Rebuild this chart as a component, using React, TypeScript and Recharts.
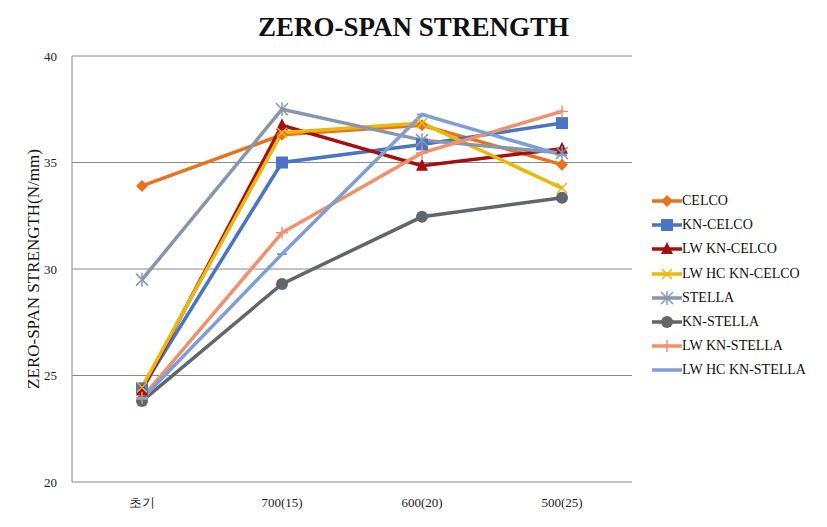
import React from "react";
import { LineChart, Line, XAxis, YAxis, CartesianGrid } from "recharts";

const categories = ["초기", "700(15)", "600(20)", "500(25)"];
const yTicks = [20, 25, 30, 35, 40];

const celco = [33.9, 36.3, 36.75, 34.9];
const knCelco = [24.4, 35.0, 35.85, 36.85];
const lwKnCelco = [24.3, 36.75, 34.85, 35.65];
const lwHcKnCelco = [24.45, 36.4, 36.85, 33.8];
const stella = [29.5, 37.5, 36.05, 35.45];
const knStella = [23.8, 29.3, 32.45, 33.35];
const lwKnStella = [23.95, 31.7, 35.45, 37.4];
const lwHcKnStella = [23.9, 30.7, 37.25, 35.35];

type Shape = "diamond" | "square" | "triangle" | "x" | "star" | "circle" | "plus" | "dash";

const series: { key: string; name: string; values: number[]; color: string; shape: Shape }[] = [
  { key: "celco", name: "CELCO", values: celco, color: "#E8731E", shape: "diamond" },
  { key: "knCelco", name: "KN-CELCO", values: knCelco, color: "#4A74C4", shape: "square" },
  { key: "lwKnCelco", name: "LW KN-CELCO", values: lwKnCelco, color: "#A60F0F", shape: "triangle" },
  { key: "lwHcKnCelco", name: "LW HC KN-CELCO", values: lwHcKnCelco, color: "#E8B90A", shape: "x" },
  { key: "stella", name: "STELLA", values: stella, color: "#8796AE", shape: "star" },
  { key: "knStella", name: "KN-STELLA", values: knStella, color: "#61656C", shape: "circle" },
  { key: "lwKnStella", name: "LW KN-STELLA", values: lwKnStella, color: "#F2906A", shape: "plus" },
  { key: "lwHcKnStella", name: "LW HC KN-STELLA", values: lwHcKnStella, color: "#7E9ED6", shape: "dash" },
];

const data = categories.map((c, i) => {
  const row: Record<string, string | number> = { cat: c };
  series.forEach((s) => (row[s.key] = s.values[i]));
  return row;
});

const serif = "'Liberation Serif', 'DejaVu Serif', serif";

function Marker({ cx, cy, shape, color }: { cx: number; cy: number; shape: Shape; color: string }) {
  switch (shape) {
    case "diamond":
      return <polygon points={`${cx},${cy - 6} ${cx + 6},${cy} ${cx},${cy + 6} ${cx - 6},${cy}`} fill={color} />;
    case "square":
      return <rect x={cx - 6} y={cy - 6} width={12} height={12} fill={color} />;
    case "triangle":
      return <polygon points={`${cx},${cy - 7} ${cx + 6},${cy + 5} ${cx - 6},${cy + 5}`} fill={color} />;
    case "x":
      return (
        <g stroke={color} strokeWidth={1.5}>
          <line x1={cx - 5} y1={cy - 5} x2={cx + 5} y2={cy + 5} />
          <line x1={cx - 5} y1={cy + 5} x2={cx + 5} y2={cy - 5} />
        </g>
      );
    case "star":
      return (
        <g stroke={color} strokeWidth={1.5}>
          <line x1={cx - 6} y1={cy - 6} x2={cx + 6} y2={cy + 6} />
          <line x1={cx - 6} y1={cy + 6} x2={cx + 6} y2={cy - 6} />
          <line x1={cx} y1={cy - 7} x2={cx} y2={cy + 7} />
        </g>
      );
    case "circle":
      return <circle cx={cx} cy={cy} r={6} fill={color} />;
    case "plus":
      return (
        <g stroke={color} strokeWidth={1.5}>
          <line x1={cx - 6} y1={cy} x2={cx + 6} y2={cy} />
          <line x1={cx} y1={cy - 6} x2={cx} y2={cy + 6} />
        </g>
      );
    default:
      return <line x1={cx - 5} y1={cy} x2={cx + 5} y2={cy} stroke={color} strokeWidth={2} />;
  }
}

export default function App() {
  return (
    <div style={{ position: "absolute", left: 0, top: 0, width: 827, height: 527, background: "#fff" }}>
      <div
        style={{
          position: "absolute", left: 0, top: 12, width: 827, textAlign: "center",
          fontFamily: serif, fontWeight: "bold", fontSize: 27, color: "#111",
        }}
      >
        ZERO-SPAN STRENGTH
      </div>
      <LineChart width={827} height={527} data={data} margin={{ top: 56, right: 195, bottom: 15, left: 0 }}>
        <CartesianGrid vertical={false} stroke="#888" strokeWidth={1} />
        <XAxis
          dataKey="cat"
          axisLine={false}
          tickLine={false}
          padding={{ left: 70, right: 70 }}
          height={30}
          tickMargin={10}
          tick={{ fontSize: 13, fontFamily: serif, fill: "#222" }}
        />
        <YAxis
          domain={[20, 40]}
          ticks={yTicks}
          width={72}
          axisLine={{ stroke: "#888" }}
          tickLine={false}
          tickMargin={9}
          tick={{ fontSize: 13, fontFamily: serif, fill: "#222" }}
          label={{
            value: "ZERO-SPAN STRENGTH(N/mm)", angle: -90, position: "insideLeft", offset: 33,
            style: { fontSize: 17, fontFamily: serif, fill: "#111", textAnchor: "middle" },
          }}
        />
        {series.map((s) => (
          <Line
            key={s.key}
            type="linear"
            dataKey={s.key}
            name={s.name}
            stroke={s.color}
            strokeWidth={3.5}
            isAnimationActive={false}
            dot={(p: any) => <Marker key={`${s.key}-${p.index}`} cx={p.cx} cy={p.cy} shape={s.shape} color={s.color} />}
          />
        ))}
      </LineChart>
      <div style={{ position: "absolute", left: 652, top: 189 }}>
        {series.map((s) => (
          <div key={s.key} style={{ display: "flex", alignItems: "center", height: 24.2 }}>
            <svg width={30} height={16} style={{ flex: "none" }}>
              <line x1={0} y1={8} x2={30} y2={8} stroke={s.color} strokeWidth={3.5} />
              <Marker cx={15} cy={8} shape={s.shape} color={s.color} />
            </svg>
            <span style={{ fontFamily: serif, fontSize: 14, color: "#111", whiteSpace: "nowrap" }}>{s.name}</span>
          </div>
        ))}
      </div>
    </div>
  );
}
